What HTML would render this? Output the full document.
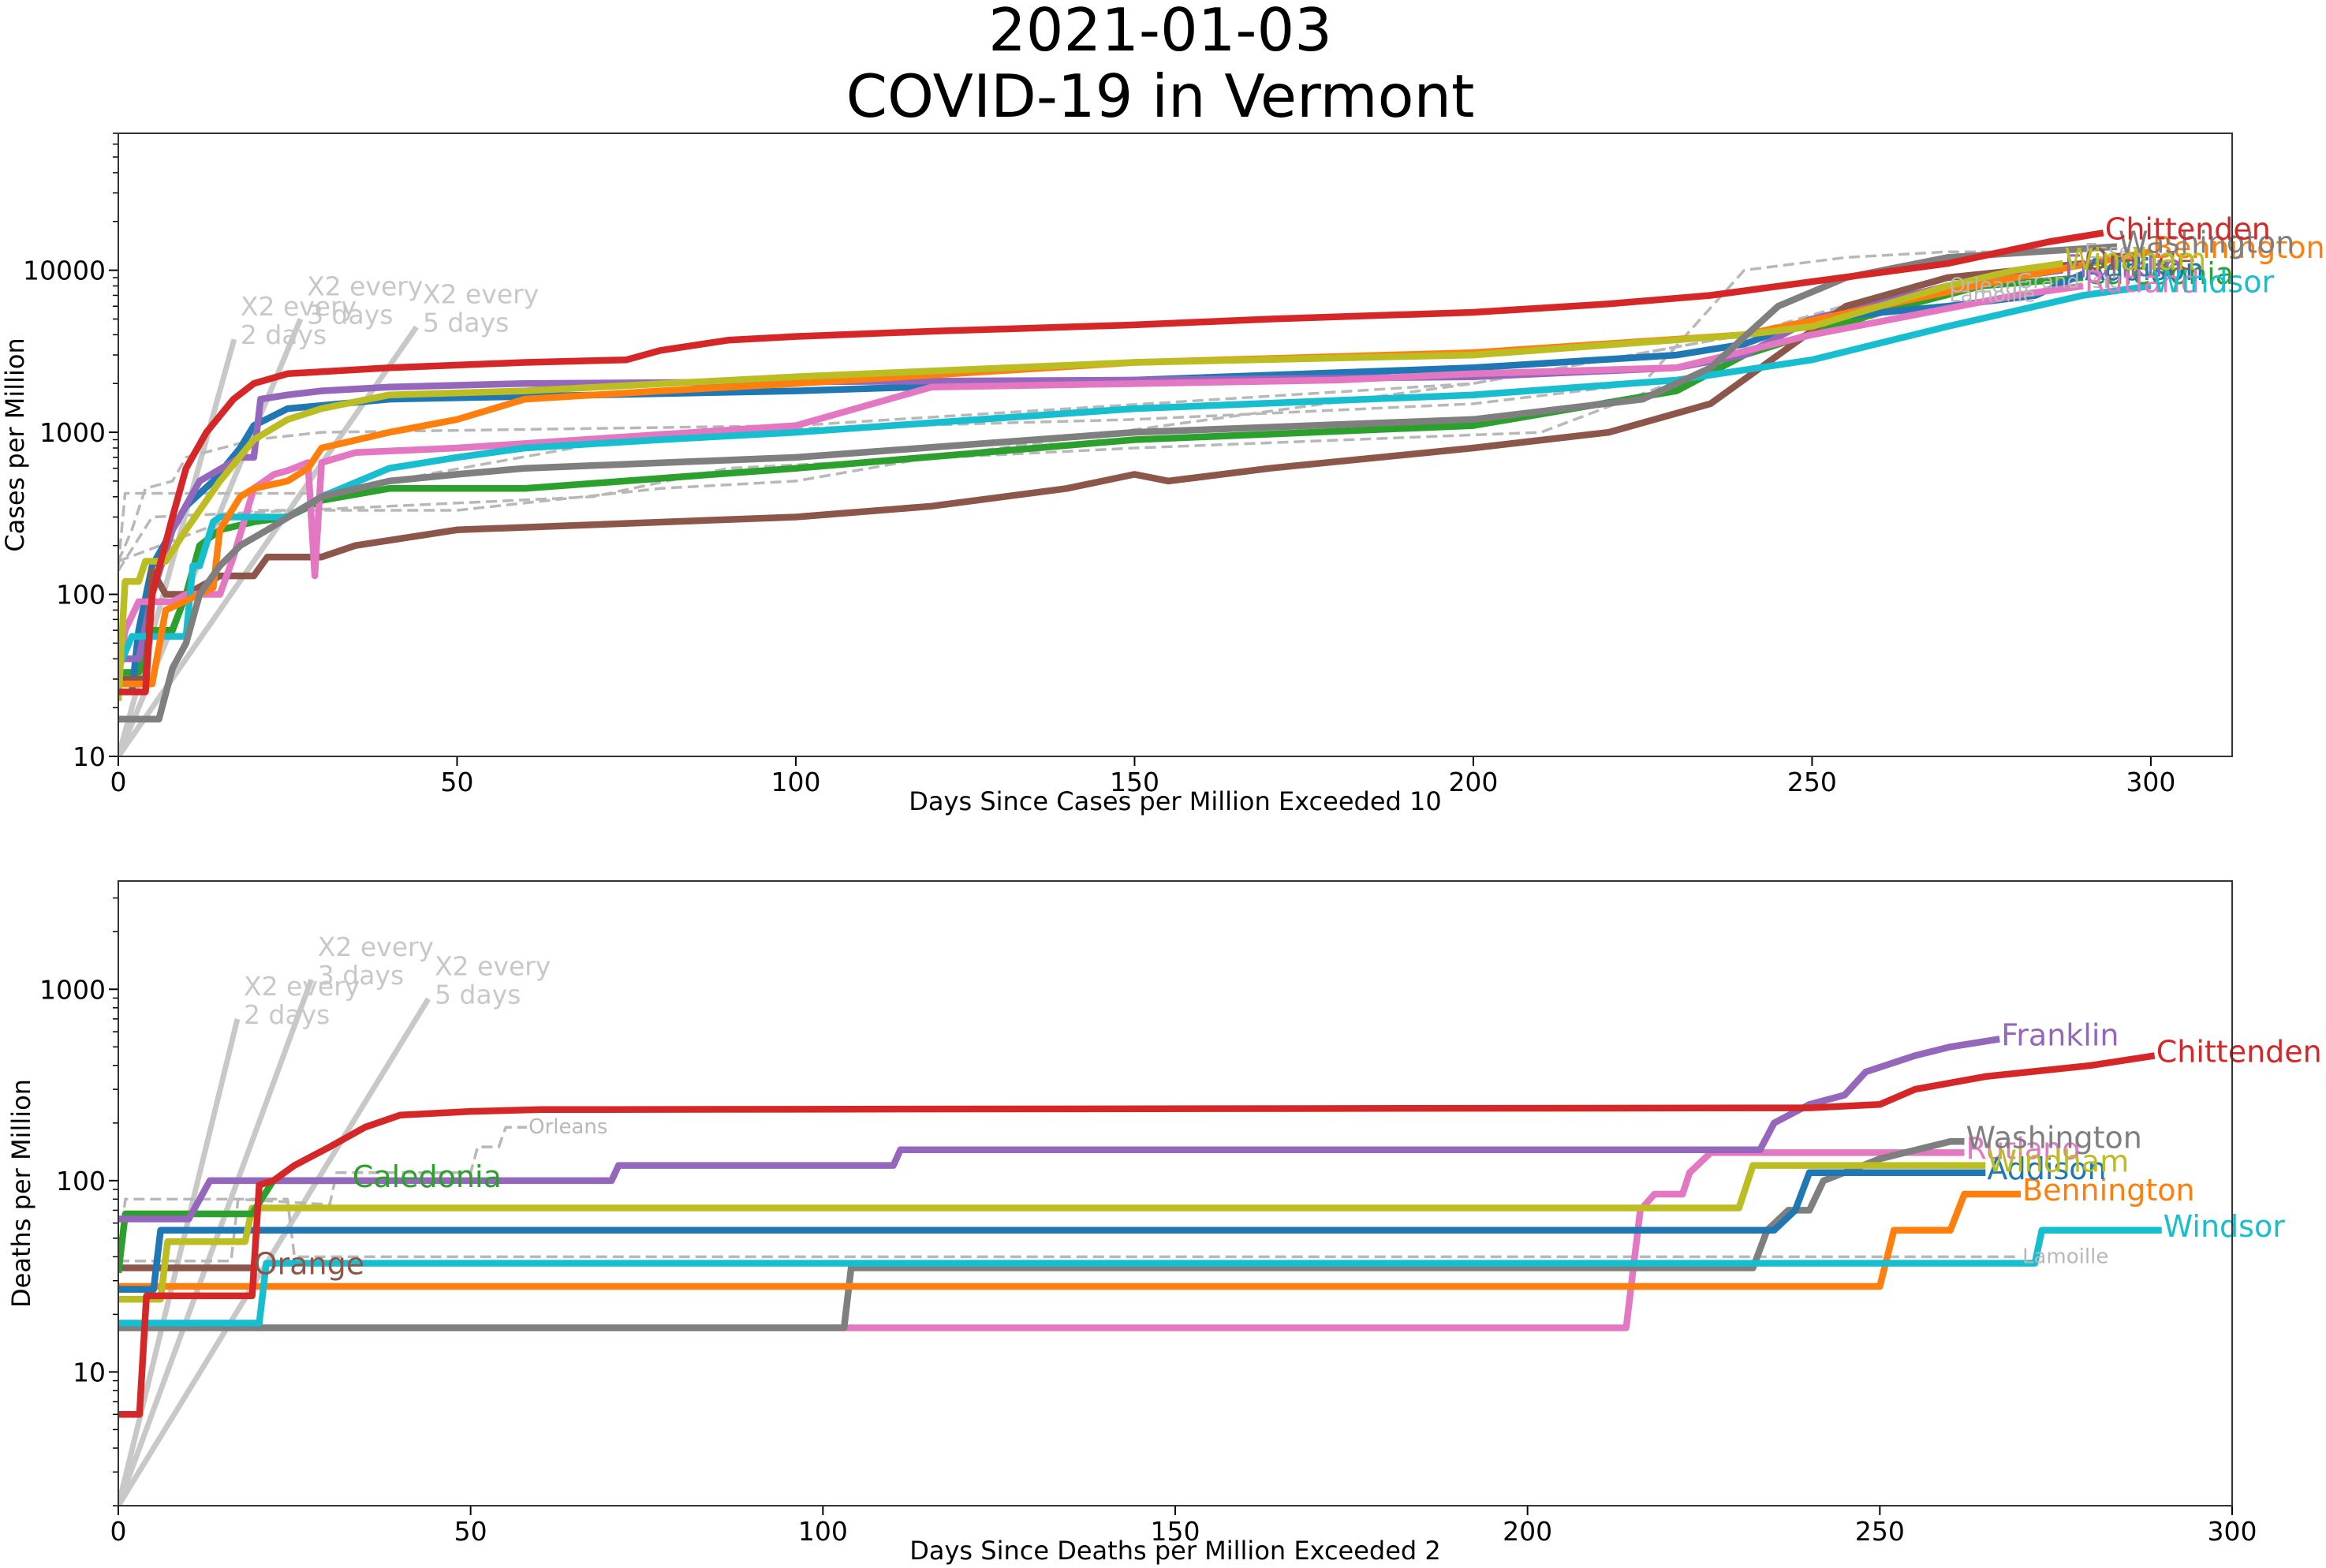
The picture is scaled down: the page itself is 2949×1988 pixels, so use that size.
<!DOCTYPE html>
<html><head><meta charset="utf-8"><style>
html,body{margin:0;padding:0;background:#fff;}
svg{display:block;font-family:"DejaVu Sans","Liberation Sans",sans-serif;}
</style></head><body>
<svg id="fig" width="2949" height="1988" viewBox="0 0 2949 1988" xmlns="http://www.w3.org/2000/svg">
<rect width="2949" height="1988" fill="#fff"/>
<text x="1471" y="64" font-size="75" text-anchor="middle">2021-01-03</text>
<text x="1471" y="148" font-size="75" text-anchor="middle">COVID-19 in Vermont</text>
<g id="top"></g>
<g id="bot"></g>
</svg>
<script>
// ===== Cases data (days, values) =====
const chittendenCasesDays=[0,4,5,8,10,13,17,20,25,40,60,75,80,90,100,120,150,170,200,220,235,250,270,285,293];
const chittendenCasesVals=[25,25,100,300,600,1000,1600,2000,2300,2500,2700,2800,3200,3700,3900,4200,4600,5000,5500,6200,7000,8500,11000,15000,17000];
const franklinCasesDays=[0,3,5,8,12,18,20,21,25,30,40,60,100,150,200,230,240,250,270,287];
const franklinCasesVals=[40,40,100,250,500,700,700,1600,1700,1800,1900,2000,2050,2100,2200,2500,3000,5000,8000,10000];
const addisonCasesDays=[0,2,3,5,8,10,14,18,20,25,40,100,150,200,230,240,250,270,283,290];
const addisonCasesVals=[25,25,60,150,250,350,500,800,1100,1400,1600,1800,2100,2500,3000,3500,5000,6000,7000,9500];
const windhamCasesDays=[0,1,3,4,7,10,15,20,25,30,40,60,100,150,200,240,250,270,280,287];
const windhamCasesVals=[22,120,120,160,160,250,500,900,1200,1400,1700,1800,2200,2700,3000,4000,4500,8000,10000,11000];
const benningtonCasesDays=[0,5,7,12,14,15,18,20,25,28,30,40,50,60,80,100,150,200,240,260,280,300];
const benningtonCasesVals=[28,28,80,100,110,250,400,450,500,600,800,1000,1200,1600,1800,2000,2700,3100,4000,6000,9000,13000];
const rutlandCasesDays=[0,1,3,8,10,15,17,20,23,25,28,29,30,35,50,100,120,180,200,230,250,280,290];
const rutlandCasesVals=[30,60,90,90,100,100,170,450,550,580,650,130,650,750,800,1100,1900,2100,2300,2500,4000,7000,8000];
const windsorCasesDays=[0,2,10,11,12,14,15,25,30,40,50,60,80,100,150,200,230,250,270,290,300];
const windsorCasesVals=[35,55,55,150,150,280,300,300,400,600,700,800,900,1000,1400,1700,2100,2800,4500,7000,8000];
const caledoniaCasesDays=[0,3,5,8,10,12,15,20,25,30,40,60,100,150,200,230,240,260,275,290];
const caledoniaCasesVals=[33,33,60,60,100,200,250,280,300,380,450,450,600,900,1100,1800,3000,5500,8000,9000];
const orangeCasesDays=[0,4,5,7,10,15,20,22,30,35,50,100,120,140,150,155,170,200,220,235,245,255,270,290];
const orangeCasesVals=[30,30,140,100,100,130,130,170,170,200,250,300,350,450,550,500,600,800,1000,1500,3000,6000,9000,11000];
const washingtonCasesDays=[0,6,8,10,12,15,18,22,30,40,50,60,100,150,200,225,235,245,255,270,295];
const washingtonCasesVals=[17,17,35,50,100,150,200,250,400,500,550,600,700,1000,1200,1600,2500,6000,9000,12000,14000];
const essexCasesDays=[0,1,30,80,150,200,225,240,255,270,290];
const essexCasesVals=[150,420,420,1000,1200,1500,2000,10000,12000,13000,13000];
const grandIsleCasesDays=[0,2,4,8,10,20,30,100,200,240,260,280];
const grandIsleCasesVals=[160,250,450,500,700,900,1000,1100,2000,4000,7000,8500];
const lamoilleCasesDays=[0,5,40,70,90,150,210,240,270];
const lamoilleCasesVals=[140,300,350,400,600,800,1000,3000,7000];
const orleansCasesDays=[0,20,50,80,100,120,200,240,270];
const orleansCasesVals=[160,330,330,450,500,700,2000,4000,8000];
// ===== Deaths data =====
const chittendenDeathDays=[0,3,4,19,20,22,25,30,35,40,50,60,240,250,255,265,280,289];
const chittendenDeathVals=[6,6,25,25,95,100,120,150,190,220,230,235,240,250,300,350,400,450];
const franklinDeathDays=[0,10,13,70,71,110,111,233,235,240,245,248,255,260,267];
const franklinDeathVals=[63,63,100,100,120,120,145,145,200,250,280,370,450,500,550];
const caledoniaDeathDays=[0,1,19,22,33];
const caledoniaDeathVals=[33,67,67,100,100];
const windhamDeathDays=[0,6,7,18,19,230,232,265];
const windhamDeathVals=[24,24,48,48,72,72,120,120];
const addisonDeathDays=[0,5,6,235,238,240,265];
const addisonDeathVals=[27,27,55,55,70,110,110];
const orangeDeathDays=[0,19];
const orangeDeathVals=[35,35];
const windsorDeathDays=[0,20,21,272,273,290];
const windsorDeathVals=[18,18,37,37,55,55];
const benningtonDeathDays=[0,250,252,260,262,270];
const benningtonDeathVals=[28,28,55,55,85,85];
const washingtonDeathDays=[0,103,104,232,234,237,240,242,250,260,262];
const washingtonDeathVals=[17,17,35,35,55,70,70,100,130,160,160];
const rutlandDeathDays=[0,214,216,218,222,223,226,262];
const rutlandDeathVals=[17,17,70,85,85,110,140,140];
const orleansDeathDays=[0,16,17,30,31,50,51,54,55,58];
const orleansDeathVals=[38,38,80,75,110,110,150,150,190,190];
const lamoilleDeathDays=[0,1,24,25,270];
const lamoilleDeathVals=[40,80,80,40,40];

const casesXTicks=[0,50,100,150,200,250,300];
const casesYTicks=[10,100,1000,10000];
const deathXTicks=[0,50,100,150,200,250,300];
const deathYTicks=[10,100,1000];
const doublingDays=[2,3,5];
const casesDoublingEnd=[17.1,26.9,44];
const deathDoublingEnd=[16.9,27.4,44];

const NS="http://www.w3.org/2000/svg";
function mk(tag,attrs,parent,text){const e=document.createElementNS(NS,tag);for(const k in attrs)e.setAttribute(k,attrs[k]);if(text!==undefined)e.textContent=text;parent.appendChild(e);return e;}

function panel(g,cfg){
  const {L,R,T,B,xmax,ymin,ymax}=cfg;
  const sx=d=>L+(R-L)*d/xmax;
  const sy=v=>B-(B-T)*(Math.log10(v)-Math.log10(ymin))/(Math.log10(ymax)-Math.log10(ymin));
  for(let e=Math.floor(Math.log10(ymin));e<=Math.ceil(Math.log10(ymax));e++){
    for(let m=2;m<=9;m++){const v=m*Math.pow(10,e);if(v<ymin||v>ymax)continue;
      const t=mk('line',{x1:L-7,x2:L,y1:sy(v),y2:sy(v),stroke:'#000','stroke-width':1.5},g);
      
      }
  }
  cfg.yTicks.forEach(v=>{
    const t=mk('line',{x1:L-12,x2:L,y1:sy(v),y2:sy(v),stroke:'#000','stroke-width':2},g);
    
    
    const l=mk('text',{x:L-16,y:sy(v)+12,'font-size':33,'text-anchor':'end'},g,String(v));
    
    
  });
  cfg.xTicks.forEach(d=>{
    if(d>xmax)return;
    const t=mk('line',{x1:sx(d),x2:sx(d),y1:B,y2:B+12,stroke:'#000','stroke-width':2},g);
    
    
    const l=mk('text',{x:sx(d),y:B+44,'font-size':33,'text-anchor':'middle'},g,String(d));
    
    
  });
  const xl=mk('text',{x:(L+R)/2,y:B+68,'font-size':32,'text-anchor':'middle'},g,cfg.xlabel);
  
  
  const yc=(T+B)/2;
  const yl=mk('text',{x:cfg.ylx,y:yc,'font-size':32,'text-anchor':'middle',transform:`rotate(-90 ${cfg.ylx} ${yc})`},g,cfg.ylabel);
  
  
  const clip=mk('clipPath',{id:cfg.id+'clip'},g);mk('rect',{x:L,y:T,width:R-L,height:B-T},clip);
  const pg=mk('g',{'clip-path':`url(#${cfg.id}clip)`},g);
  doublingDays.forEach((dd,i)=>{
    const de=cfg.dEnd[i];const v=ymin*Math.pow(2,de/dd);
    const ln=mk('line',{x1:sx(0),y1:sy(ymin),x2:sx(de),y2:sy(v),stroke:'#c8c8c8','stroke-width':7},pg);
    
    
    const tx=mk('text',{x:sx(de)+8,y:sy(v)-30,'font-size':33,fill:'#c8c8c8'},g);
    
    
    mk('tspan',{x:sx(de)+8,dy:0},tx,'X2 every');
    mk('tspan',{x:sx(de)+8,dy:36},tx,dd+' days');
  });
  cfg.series.forEach(s=>{
    const pts=s.d.map((d,i)=>sx(d).toFixed(1)+','+sy(s.v[i]).toFixed(1)).join(' ');
    const pl=mk('polyline',{points:pts,fill:'none',stroke:s.c,'stroke-width':s.dash?3.5:8.5,'stroke-linejoin':'round','stroke-dasharray':s.dash?'14 7':'none'},pg);
    
    
    if(s.label!==false){
      const n=s.d.length-1;
      const lt=mk('text',{x:sx(s.d[n])+2,y:sy(s.v[n])+(s.dy||8),'font-size':s.dash?26:38,fill:s.dash?'#b8b8b8':s.c},g,s.n);
      
      
    }
  });
  const fr=mk('rect',{x:L,y:T,width:R-L,height:B-T,fill:'none',stroke:'#333','stroke-width':2},g);
  
  
}
const C={blue:'#1f77b4',orange:'#ff7f0e',green:'#2ca02c',red:'#d62728',purple:'#9467bd',brown:'#8c564b',pink:'#e377c2',gray:'#7f7f7f',olive:'#bcbd22',cyan:'#17becf',dash:'#b8b8b8'};
panel(document.getElementById('top'),{id:'top',L:150,R:2830,T:169,B:959,xmax:312,ymin:10,ymax:70000,
  xTicks:casesXTicks,yTicks:casesYTicks,xlabel:'Days Since Cases per Million Exceeded 10',ylabel:'Cases per Million',ylx:30,dEnd:casesDoublingEnd,
  series:[
   {n:'Essex',d:essexCasesDays,v:essexCasesVals,c:C.dash,dash:true,dy:0},
   {n:'Grand Isle',d:grandIsleCasesDays,v:grandIsleCasesVals,c:C.dash,dash:true},
   {n:'Lamoille',d:lamoilleCasesDays,v:lamoilleCasesVals,c:C.dash,dash:true},
   {n:'Orleans',d:orleansCasesDays,v:orleansCasesVals,c:C.dash,dash:true},
   {n:'Caledonia',d:caledoniaCasesDays,v:caledoniaCasesVals,c:C.green},
   {n:'Addison',d:addisonCasesDays,v:addisonCasesVals,c:C.blue},
   {n:'Franklin',d:franklinCasesDays,v:franklinCasesVals,c:C.purple},
   {n:'Orange',d:orangeCasesDays,v:orangeCasesVals,c:C.brown},
   {n:'Rutland',d:rutlandCasesDays,v:rutlandCasesVals,c:C.pink},
   {n:'Windsor',d:windsorCasesDays,v:windsorCasesVals,c:C.cyan},
   {n:'Bennington',d:benningtonCasesDays,v:benningtonCasesVals,c:C.orange},
   {n:'Windham',d:windhamCasesDays,v:windhamCasesVals,c:C.olive},
   {n:'Washington',d:washingtonCasesDays,v:washingtonCasesVals,c:C.gray},
   {n:'Chittenden',d:chittendenCasesDays,v:chittendenCasesVals,c:C.red}
  ]});
panel(document.getElementById('bot'),{id:'bot',L:150,R:2830,T:1117,B:1909,xmax:300,ymin:2,ymax:3680,
  xTicks:deathXTicks,yTicks:deathYTicks,xlabel:'Days Since Deaths per Million Exceeded 2',ylabel:'Deaths per Million',ylx:38,dEnd:deathDoublingEnd,
  series:[
   {n:'Orleans',d:orleansDeathDays,v:orleansDeathVals,c:C.dash,dash:true},
   {n:'Lamoille',d:lamoilleDeathDays,v:lamoilleDeathVals,c:C.dash,dash:true},
   {n:'Rutland',d:rutlandDeathDays,v:rutlandDeathVals,c:C.pink},
   {n:'Washington',d:washingtonDeathDays,v:washingtonDeathVals,c:C.gray},
   {n:'Bennington',d:benningtonDeathDays,v:benningtonDeathVals,c:C.orange},
   {n:'Windsor',d:windsorDeathDays,v:windsorDeathVals,c:C.cyan},
   {n:'Orange',d:orangeDeathDays,v:orangeDeathVals,c:C.brown},
   {n:'Addison',d:addisonDeathDays,v:addisonDeathVals,c:C.blue},
   {n:'Windham',d:windhamDeathDays,v:windhamDeathVals,c:C.olive},
   {n:'Caledonia',d:caledoniaDeathDays,v:caledoniaDeathVals,c:C.green},
   {n:'Franklin',d:franklinDeathDays,v:franklinDeathVals,c:C.purple},
   {n:'Chittenden',d:chittendenDeathDays,v:chittendenDeathVals,c:C.red}
  ]});
</script>
</body></html>
